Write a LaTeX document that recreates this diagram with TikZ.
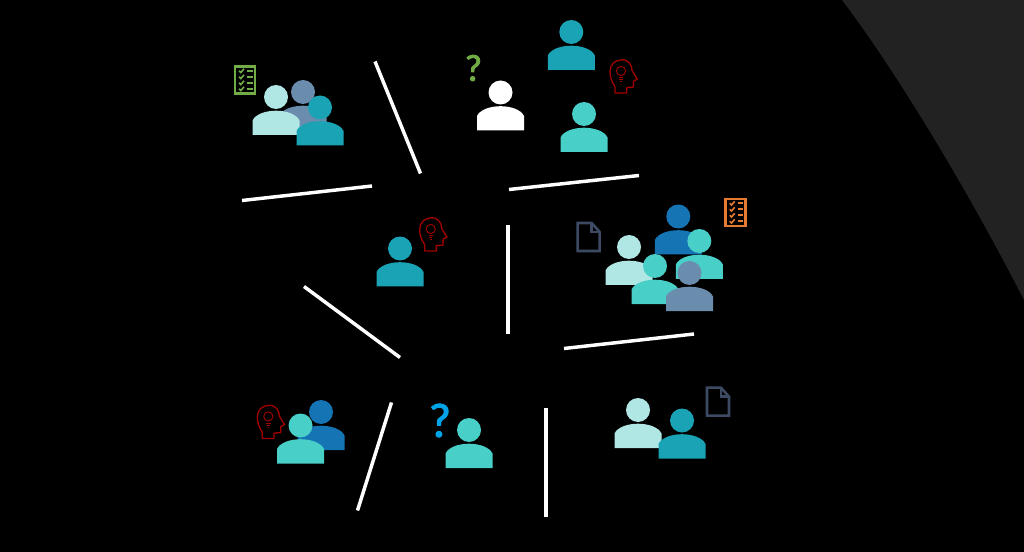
\documentclass[tikz,border=0pt]{standalone}
\usepackage{fontspec}
\setmainfont{Liberation Sans}
\newfontfamily\qfont[BoldFont=Lato,BoldFeatures={FakeBold=2.5}]{Lato}
\definecolor{tealp}{HTML}{1AA3B5}
\definecolor{lightp}{HTML}{B0E6E3}
\definecolor{slatep}{HTML}{6A8CAD}
\definecolor{turqp}{HTML}{48CFC8}
\definecolor{bluep}{HTML}{1474B4}
\definecolor{panel}{HTML}{222222}
\definecolor{docc}{HTML}{3D4A63}
\definecolor{greenc}{HTML}{70AD47}
\definecolor{orangec}{HTML}{E57A30}
\definecolor{redc}{HTML}{A00000}
\definecolor{bluec}{HTML}{00A3E8}
\tikzset{
  x=0.75pt,y=-0.75pt,
  divider/.style={white,line width=2.6pt},
  qmark/.style={inner sep=0pt},
  person/.pic={
    \fill[#1] (0,0) circle (12);
    \fill[#1] (-23.5,38) -- (-23.5,23.5) .. controls (-20.5,17) and (-10,13.7) .. (0,13.7)
      .. controls (10,13.7) and (20.5,17) .. (23.5,23.5) -- (23.5,38) -- cycle;
  },
  thinkhead/.pic={
    \draw[redc,line width=1pt,line join=round]
      (-6,21.5) -- (-6,15) .. controls (-9,11) and (-11,6) .. (-11,0)
      .. controls (-11,-7) and (-6,-11.7) .. (1,-11.7)
      .. controls (8,-11.7) and (11,-6) .. (11,-1)
      -- (16.3,7.7) -- (12.5,9.5) -- (12.3,15.7) -- (5.7,16) -- (5.7,21.5) -- cycle;
    \draw[redc,line width=0.7pt] (0,-0.5) circle (4.6);
    \draw[redc,line width=0.7pt] (-2.2,6) -- (2.2,6) (-1.6,8) -- (1.6,8) (-0.8,10) -- (0.8,10);
  },
  checklist/.pic={
    \draw[#1,line width=1.9pt] (-10,-13.5) rectangle (10,13.5);
    \foreach \r in {-9.2,-3.2,2.8,8.8}{
      \draw[#1,line width=1.2pt] (-6,\r) -- (-4.2,\r+1.8) -- (-1,\r-2);
      \draw[#1,line width=1.3pt] (2,\r) -- (7.5,\r);
    }
  },
  docicon/.pic={
    \draw[docc,line width=1.9pt,line join=miter]
      (-11,-14) -- (3,-14) -- (11,-5) -- (11,14) -- (-11,14) -- cycle;
    \draw[docc,line width=1.9pt] (3,-14) -- (3,-5) -- (11,-5);
  }
}
\begin{document}
\begin{tikzpicture}
\useasboundingbox (0,0) rectangle (1024,552);
\fill[black] (0,0) rectangle (1024,552);
\fill[panel] (842,0) .. controls (895,70) and (965,185) .. (1024,300) -- (1024,0) -- cycle;
% dividers
\draw[divider] (375,61.5) -- (420.5,173.5);
\draw[divider] (242,200.5) -- (372,186);
\draw[divider] (509,189.5) -- (639,175.5);
\draw[divider] (508,225.5) -- (508,334);
\draw[divider] (304,286.5) -- (400,357.5);
\draw[divider] (564,348.5) -- (694,334);
\draw[divider] (391.5,402.5) -- (357.5,510.5);
\draw[divider] (546,408) -- (546,516.5);
% group top left
\pic at (303,92) {person=slatep};
\pic at (276,97) {person=lightp};
\pic at (320,107.5) {person=tealp};
\pic at (245,80) {checklist=greenc};
% top centre
\pic at (500.5,92.5) {person=white};
\pic at (571.3,32) {person=tealp};
\pic at (584,114) {person=turqp};
\pic at (621,71.5) {thinkhead};
\node[qmark,text=greenc,font=\qfont\bfseries\fontsize{26.5}{26.5}\selectfont] (q1) at (473.5,68) {?};
% centre
\pic at (400,248.5) {person=tealp};
\pic at (430.7,229.5) {thinkhead};
% right group
\pic at (678.3,216.5) {person=bluep};
\pic at (699.3,241) {person=turqp};
\pic at (629,247) {person=lightp};
\pic at (655,266) {person=turqp};
\pic at (689.5,273) {person=slatep};
\pic at (735.7,212.5) {checklist=orangec};
\pic at (588.7,237) {docicon};
% bottom left
\pic at (321,412) {person=bluep};
\pic at (300.5,425.5) {person=turqp};
\pic at (268.3,417) {thinkhead};
% bottom centre
\pic at (469,430) {person=turqp};
\node[qmark,text=bluec,font=\qfont\bfseries\fontsize{34}{34}\selectfont] (q2) at (440,420.5) {?};
% bottom right
\pic at (638,410) {person=lightp};
\pic at (682,420.5) {person=tealp};
\pic at (718,401.7) {docicon};
\end{tikzpicture}
\end{document}
